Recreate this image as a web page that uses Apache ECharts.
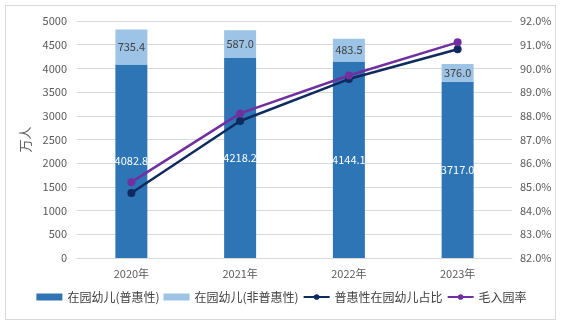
<!DOCTYPE html>
<html>
<head>
<meta charset="utf-8">
<script src="https://cdn.jsdelivr.net/npm/echarts@6/dist/echarts.min.js"></script>
<style>
  html, body { margin: 0; padding: 0; background: #fff; }
  #wrap { position: absolute; left: 5px; top: 5px; width: 551px; height: 315px; border: 1px solid #d9d9d9; box-sizing: border-box; }
  #chart { position: absolute; left: 0; top: 0; width: 563px; height: 329px; }
</style>
</head>
<body>
<div id="wrap"></div>
<div id="chart"></div>
<script>
const years = ['2020年', '2021年', '2022年', '2023年'];
const inclusive = [4082.8, 4218.2, 4144.1, 3717.0];      // 在园幼儿(普惠性), 万人
const nonInclusive = [735.4, 587.0, 483.5, 376.0];      // 在园幼儿(非普惠性), 万人
const inclusiveShare = [84.74, 87.78, 89.55, 90.81];    // 普惠性在园幼儿占比, %
const grossRate = [85.2, 88.1, 89.7, 91.1];             // 毛入园率, %

const font = '"Microsoft YaHei", "Noto Sans CJK SC", sans-serif';
const chart = echarts.init(document.getElementById('chart'), null, { renderer: 'canvas' });

chart.setOption({
  animation: false,
  textStyle: { fontFamily: font },
  grid: { left: 77, right: 51, top: 21, bottom: 71 },
  legend: {
    bottom: 21,
    left: 'center',
    itemWidth: 26,
    itemHeight: 7,
    itemGap: 4,
    textStyle: { fontSize: 12, color: '#404040', fontFamily: font },
    data: [
      { name: '在园幼儿(普惠性)', icon: 'rect' },
      { name: '在园幼儿(非普惠性)', icon: 'rect' },
      { name: '普惠性在园幼儿占比' },
      { name: '毛入园率' }
    ]
  },
  xAxis: {
    type: 'category',
    data: years,
    axisLine: { lineStyle: { color: '#d9d9d9' } },
    axisTick: { show: false },
    axisLabel: { color: '#595959', fontSize: 11, margin: 10 }
  },
  yAxis: [
    {
      type: 'value',
      min: 0, max: 5000, interval: 500,
      name: '万人',
      nameLocation: 'middle',
      nameGap: 37,
      nameRotate: 90,
      nameTextStyle: { color: '#595959', fontSize: 13 },
      axisLine: { show: false },
      axisTick: { show: false },
      axisLabel: { color: '#595959', fontSize: 11, margin: 10, formatter: v => String(v) },
      splitLine: { lineStyle: { color: '#d9d9d9' } }
    },
    {
      type: 'value',
      min: 82, max: 92, interval: 1,
      position: 'right',
      axisLine: { show: false },
      axisTick: { show: false },
      axisLabel: { color: '#595959', fontSize: 11, margin: 8, formatter: v => v.toFixed(1) + '%' },
      splitLine: { show: false }
    }
  ],
  series: [
    {
      name: '在园幼儿(普惠性)',
      type: 'bar',
      stack: 'kids',
      barWidth: 32,
      data: inclusive,
      itemStyle: { color: '#2E75B6' },
      label: { show: true, position: 'inside', color: '#ffffff', fontSize: 11, formatter: p => p.value.toFixed(1) }
    },
    {
      name: '在园幼儿(非普惠性)',
      type: 'bar',
      stack: 'kids',
      barWidth: 32,
      data: nonInclusive,
      itemStyle: { color: '#9DC3E6' },
      label: { show: true, position: 'inside', color: '#404040', fontSize: 11, formatter: p => p.value.toFixed(1) }
    },
    {
      name: '普惠性在园幼儿占比',
      type: 'line',
      yAxisIndex: 1,
      data: inclusiveShare,
      symbol: 'circle',
      symbolSize: 8,
      lineStyle: { width: 2.5, color: '#0E2A5F' },
      itemStyle: { color: '#0E2A5F' }
    },
    {
      name: '毛入园率',
      type: 'line',
      yAxisIndex: 1,
      data: grossRate,
      symbol: 'circle',
      symbolSize: 8,
      lineStyle: { width: 2.5, color: '#7030A0' },
      itemStyle: { color: '#7030A0' }
    }
  ]
});
</script>
</body>
</html>
